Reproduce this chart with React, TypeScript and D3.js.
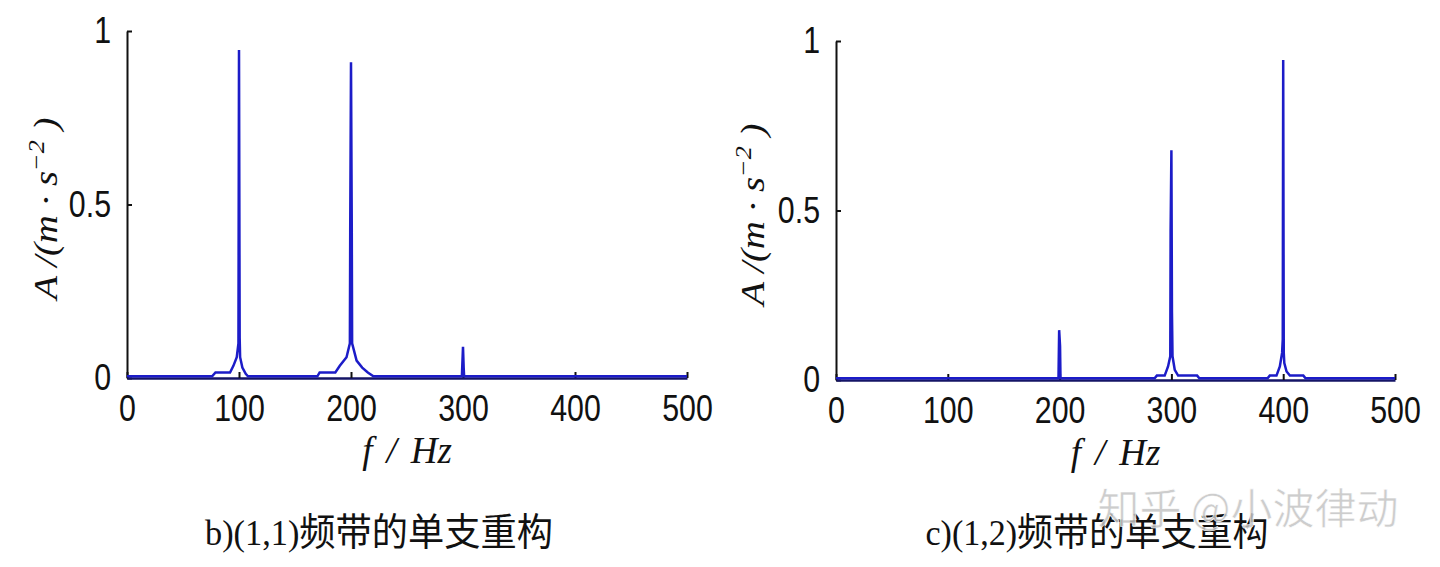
import { useEffect, useRef } from "react";
import { axisBottom, axisLeft, line, scaleLinear, select } from "d3";

// frequency ticks and amplitude ticks shared by both panels
const freqTicks = [0, 100, 200, 300, 400, 500];
const ampTicks = [0, 0.5, 1];

// panel b) (1,1) band
const bFreq = [
  0, 76, 79, 92, 95, 98, 99.5, 100, 100.6, 101, 103, 106, 108,
  170, 172, 186, 190, 196, 199, 199.3, 200, 200.7, 201, 205, 210, 215, 220,
  299, 300, 300.6, 301, 500,
];
const bAmp = [
  0.005, 0.005, 0.016, 0.016, 0.035, 0.06, 0.1, 0.945, 0.115, 0.06, 0.03, 0.012, 0.005,
  0.005, 0.016, 0.016, 0.035, 0.06, 0.1, 0.42, 0.91, 0.42, 0.1, 0.05, 0.03, 0.016, 0.005,
  0.005, 0.09, 0.03, 0.005, 0.005,
];

// panel c) (1,2) band
const cFreq = [
  0, 199, 199.6, 200.4, 200.8,
  285, 287, 294, 297, 299, 299.3, 300, 300.5, 301, 303, 306, 323, 325,
  386, 388, 394, 397, 399, 399.6, 400, 400.5, 401, 403, 406, 418, 420, 500,
];
const cAmp = [
  0.005, 0.005, 0.147, 0.1, 0.005,
  0.005, 0.013, 0.013, 0.04, 0.07, 0.437, 0.678, 0.2, 0.07, 0.03, 0.013, 0.013, 0.005,
  0.005, 0.013, 0.013, 0.04, 0.08, 0.12, 0.944, 0.08, 0.05, 0.025, 0.013, 0.013, 0.005, 0.005,
];

const captions = ["b)(1,1)", "c)(1,2)"];
const captionTail = "频带的单支重构";
const watermark = "知乎 @小波律动";

const panels = [
  { freq: bFreq, amp: bAmp, caption: captions[0], left: 127, right: 687, top: 31, bottom: 378, yLabelX: 45, capX: 379, capW: 348 },
  { freq: cFreq, amp: cAmp, caption: captions[1], left: 836, right: 1395, top: 41, bottom: 380, yLabelX: 752, capX: 1097, capW: 343 },
];

const BLUE = "#1c1cc8";

export default function App() {
  const svgRef = useRef<SVGSVGElement | null>(null);

  useEffect(() => {
    const svg = select(svgRef.current);
    svg.selectAll("*").remove();

    svg.append("rect").attr("width", 1440).attr("height", 567).attr("fill", "#fff");

    panels.forEach((p) => {
      const x = scaleLinear().domain([0, 500]).range([p.left, p.right]);
      const y = scaleLinear().domain([0, 1]).range([p.bottom, p.top]);

      // y axis
      const yAxis = svg.append("g").attr("transform", `translate(${p.left},0)`);
      yAxis.call(
        axisLeft(y).tickValues(ampTicks).tickSize(-5).tickSizeOuter(0).tickPadding(16).tickFormat((d) => String(d))
      );
      // x axis
      const xAxis = svg.append("g").attr("transform", `translate(0,${p.bottom})`);
      xAxis.call(
        axisBottom(x).tickValues(freqTicks).tickSize(-6).tickSizeOuter(0).tickPadding(17).tickFormat((d) => String(d))
      );

      [yAxis, xAxis].forEach((ax) => {
        ax.select(".domain").attr("stroke", "#111").attr("stroke-width", 2);
        ax.selectAll(".tick line").attr("stroke", "#111").attr("stroke-width", 2);
        ax.selectAll<SVGTextElement, unknown>(".tick text")
          .attr("fill", "#111")
          .style("font-family", "'Liberation Sans', Arial, sans-serif")
          .style("font-size", "37px")
          .each(function () {
            const w = this.getComputedTextLength();
            this.setAttribute("textLength", String(w * 0.82));
            this.setAttribute("lengthAdjust", "spacingAndGlyphs");
          });
      });
      xAxis.select(".domain").attr("stroke", "#141466").attr("stroke-width", 2.5);

      // spectrum
      const pts = p.freq.map((f, i) => [f, p.amp[i]] as [number, number]);
      svg
        .append("path")
        .attr("d", line<[number, number]>().x((d) => x(d[0])).y((d) => y(d[1]))(pts) || "")
        .attr("fill", "none")
        .attr("stroke", BLUE)
        .attr("stroke-width", 2.5)
        .attr("stroke-linejoin", "miter");

      // y label
      const yl = svg
        .append("text")
        .attr("transform", `translate(${p.yLabelX + 12},${(p.top + p.bottom) / 2 + 4}) rotate(-90)`)
        .attr("text-anchor", "middle")
        .attr("textLength", 182)
        .attr("lengthAdjust", "spacingAndGlyphs")
        .style("font-family", "'Liberation Serif', 'Times New Roman', serif")
        .style("font-style", "italic")
        .style("font-size", "34px")
        .attr("fill", "#111");
      yl.append("tspan").text("A /(m · s");
      yl.append("tspan").attr("dy", -13).style("font-size", "23px").text("−2");
      yl.append("tspan").attr("dy", 13).text(" )");

      // x label
      const xl = svg
        .append("text")
        .attr("x", (p.left + p.right) / 2)
        .attr("y", p.bottom + 85)
        .attr("text-anchor", "middle")
        .style("font-family", "'Liberation Serif', 'Times New Roman', serif")
        .style("font-style", "italic")
        .style("font-size", "37px")
        .attr("fill", "#111");
      xl.append("tspan").text("f");
      xl.append("tspan").attr("dx", 14).text("/");
      xl.append("tspan").attr("dx", 14).text("Hz");

      // caption
      const cap = svg
        .append("text")
        .attr("x", p.capX)
        .attr("y", 545)
        .attr("text-anchor", "middle")
        .attr("textLength", p.capW)
        .attr("lengthAdjust", "spacingAndGlyphs")
        .attr("fill", "#111");
      cap
        .append("tspan")
        .style("font-family", "'Liberation Serif', 'Times New Roman', serif")
        .style("font-size", "36px")
        .text(p.caption);
      cap
        .append("tspan")
        .style("font-family", "'Noto Sans CJK SC', sans-serif")
        .style("font-size", "38px")
        .text(captionTail);
    });

    // watermark
    svg
      .append("text")
      .attr("x", 1248)
      .attr("y", 524)
      .attr("text-anchor", "middle")
      .style("font-family", "'Noto Sans CJK SC', sans-serif")
      .style("font-size", "42px")
      .attr("fill", "#c4c4c4")
      .attr("fill-opacity", 0.85)
      .attr("stroke", "#fff")
      .attr("stroke-width", 0.6)
      .text(watermark);
  }, []);

  return (
    <svg
      ref={svgRef}
      width={1440}
      height={567}
      style={{ position: "absolute", left: 0, top: 0, display: "block" }}
    />
  );
}
